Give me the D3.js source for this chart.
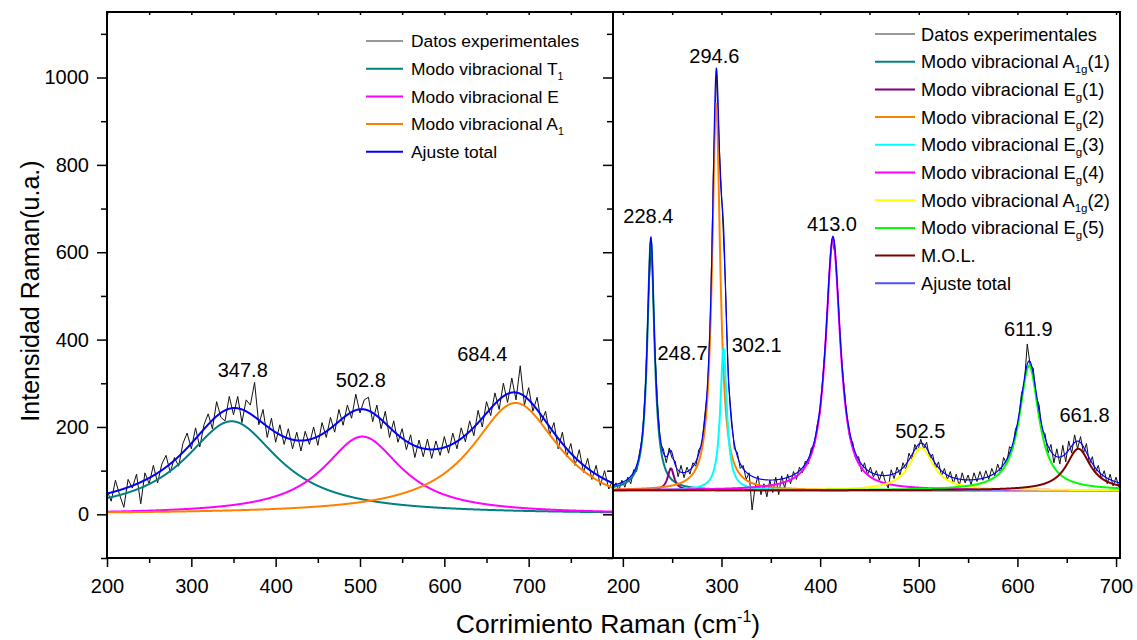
<!DOCTYPE html>
<html lang="es">
<head>
<meta charset="UTF-8">
<title>Espectro Raman</title>
<script src="https://cdn.jsdelivr.net/npm/d3@7"></script>
<style>
    body { margin: 0; background: #fff; }
    svg text { font-family: "Liberation Sans", Arial, sans-serif; fill: #000; }
    .axis path { display: none; }
    .axis line { stroke: #000; stroke-width: 1.5; }
</style>
</head>
<body>
<svg id="chart" width="1137" height="640"></svg>
<script>
// ---------- data ----------
// left panel: experimental spectrum, x = 200 + 5*i
const leftStart = 200, leftStep = 5;
const leftExp = [
    55, 30, 78, 44, 16, 80, 60, 92, 24, 95,
    70, 112, 72, 115, 135, 96, 130, 110, 162, 186,
    150, 198, 154, 205, 230, 196, 258, 222, 214, 270,
    228, 270, 210, 262, 250, 302, 205, 240, 176, 220,
    165, 205, 160, 196, 150, 188, 145, 190, 160, 200,
    158, 210, 176, 222, 188, 240, 204, 250, 220, 275,
    232, 262, 268, 212, 250, 196, 236, 176, 214, 165,
    196, 148, 182, 130, 170, 132, 172, 128, 168, 135,
    178, 140, 186, 150, 198, 166, 214, 180, 238, 200,
    258, 226, 278, 240, 300, 256, 312, 262, 340, 250,
    290, 236, 268, 210, 236, 182, 210, 150, 188, 132,
    162, 112, 148, 96, 128, 80, 112, 66, 100, 58,
    80
];
// left panel: fitted Lorentzian modes (center, height, half width)
const leftCenters = [347.8, 502.8, 684.4];
const leftHeights = [213, 178, 255];
const leftWidths = [67.9, 56.6, 64.3];
const leftPeakLabels = ["347.8", "502.8", "684.4"];
const leftLabelX = [361, 501, 645];
const leftLabelY = [330, 307, 368];

// right panel: experimental spectrum, x = 190 + 3*i
const rightStart = 190, rightStep = 3;
const rightExp = [
    58, 72, 55, 78, 62, 85, 70, 102, 98, 142,
    178, 300, 495, 625, 398, 262, 160, 150, 118, 152,
    128, 122, 86, 112, 84, 108, 92, 118, 110, 148,
    158, 225, 290, 470, 805, 1010, 830, 688, 525, 305,
    225, 150, 142, 105, 112, 80, 95, 10, 62, 88,
    45, 70, 40, 78, 50, 85, 45, 88, 60, 92,
    70, 98, 80, 108, 95, 122, 115, 152, 155, 205,
    232, 322, 405, 545, 630, 598, 505, 370, 298, 222,
    175, 165, 128, 132, 98, 118, 90, 108, 85, 100,
    78, 98, 75, 60, 102, 82, 108, 90, 118, 102,
    140, 125, 160, 145, 172, 150, 165, 128, 138, 105,
    120, 88, 105, 80, 98, 70, 92, 65, 95, 72,
    90, 68, 95, 75, 98, 78, 100, 80, 105, 88,
    115, 95, 130, 115, 155, 148, 195, 210, 275, 300,
    390, 340, 335, 270, 250, 190, 185, 140, 160, 118,
    150, 115, 158, 120, 168, 140, 182, 150, 178, 140,
    162, 115, 132, 95, 112, 82, 100, 70, 92, 65,
    85, 62
];
const rightBaseline = 55;
const rightCenters = [228.4, 248.7, 294.6, 302.1, 413.0, 502.5, 611.9, 661.8];
const rightHeights = [570, 50, 885, 325, 575, 97, 285, 95];
const rightWidths = [4.5, 4, 5, 4, 9, 15, 12, 15];
const rightPeakLabels = ["228.4", "248.7", "294.6", "302.1", "413.0", "502.5", "611.9", "661.8"];
const rightLabelX = [225.8, 260.5, 292.7, 335.7, 412, 501.5, 611, 668];
const rightLabelY = [684, 369, 1050, 388, 665, 190, 425, 228];

// legends: [text, subscript, after]
const leftLegend = [
    ["Datos experimentales", "", ""],
    ["Modo vibracional T", "1", ""],
    ["Modo vibracional E", "", ""],
    ["Modo vibracional A", "1", ""],
    ["Ajuste total", "", ""]
];
const rightLegend = [
    ["Datos experimentales", "", ""],
    ["Modo vibracional A", "1g", "(1)"],
    ["Modo vibracional E", "g", "(1)"],
    ["Modo vibracional E", "g", "(2)"],
    ["Modo vibracional E", "g", "(3)"],
    ["Modo vibracional E", "g", "(4)"],
    ["Modo vibracional A", "1g", "(2)"],
    ["Modo vibracional E", "g", "(5)"],
    ["M.O.L.", "", ""],
    ["Ajuste total", "", ""]
];

const xMajor = [200, 300, 400, 500, 600, 700];
const xMinorL = [250, 350, 450, 550, 650, 750];
const xMinorR = [250, 350, 450, 550, 650];
const yMajor = [0, 200, 400, 600, 800, 1000];
const yMinor = [-100, 100, 300, 500, 700, 900, 1100];

// styles
const leftColors = ["#008080", "#ff00ff", "#ff8000"];
const rightColors = ["#008080", "#800080", "#ff8000", "#00ffff", "#ff00ff", "#ffff00", "#00ff00", "#800000"];

// ---------- layout ----------
const svg = d3.select("#chart");
const plotTop = 12, plotBottom = 558, plotLeft = 107, plotMid = 613, plotRight = 1120;

const y = d3.scaleLinear().domain([-100, 1150]).range([plotBottom, plotTop]);
const xL = d3.scaleLinear().domain([200, 800]).range([plotLeft, plotMid]);
const xR = d3.scaleLinear().domain([190, 704]).range([plotMid, plotRight]);

const defs = svg.append("defs");
defs.append("clipPath").attr("id", "clipL").append("rect")
    .attr("x", plotLeft).attr("y", plotTop).attr("width", plotMid - plotLeft).attr("height", plotBottom - plotTop);
defs.append("clipPath").attr("id", "clipR").append("rect")
    .attr("x", plotMid).attr("y", plotTop).attr("width", plotRight - plotMid).attr("height", plotBottom - plotTop);

const lorentz = (x, c, h, w) => h * w * w / ((x - c) * (x - c) + w * w);

function drawPanel(x, clip, exp, start, step, centers, heights, widths, colors, base, totalWidth) {
    const g = svg.append("g").attr("clip-path", "url(#" + clip + ")");
    const line = d3.line().x(d => x(d[0])).y(d => y(d[1]));
    const expPts = exp.map((v, i) => [start + i * step, v]);
    g.append("path").datum(expPts)
        .attr("fill", "none").attr("stroke", "#111").attr("stroke-width", 1)
        .attr("d", line);

    const grid = d3.range(x.domain()[0], x.domain()[1] + 0.25, 0.25);
    centers.forEach((c, k) => {
        const pts = grid.map(v => [v, base + lorentz(v, c, heights[k], widths[k])]);
        g.append("path").datum(pts)
            .attr("fill", "none").attr("stroke", colors[k]).attr("stroke-width", 2)
            .attr("d", line);
    });
    const total = grid.map(v => [v, base + d3.sum(centers, (c, k) => lorentz(v, c, heights[k], widths[k]))]);
    g.append("path").datum(total)
        .attr("fill", "none").attr("stroke", "#0000ff").attr("stroke-width", totalWidth)
        .attr("d", line);
}

drawPanel(xL, "clipL", leftExp, leftStart, leftStep, leftCenters, leftHeights, leftWidths, leftColors, 0, 2);
drawPanel(xR, "clipR", rightExp, rightStart, rightStep, rightCenters, rightHeights, rightWidths, rightColors, rightBaseline, 1.2);

// peak labels
function drawLabels(x, labels, lx, ly) {
    svg.append("g").selectAll("text").data(labels).join("text")
        .attr("x", (d, i) => x(lx[i]))
        .attr("y", (d, i) => y(ly[i]))
        .attr("dy", "0.35em")
        .attr("text-anchor", "middle")
        .attr("font-size", 20)
        .text(d => d);
}
drawLabels(xL, leftPeakLabels, leftLabelX, leftLabelY);
drawLabels(xR, rightPeakLabels, rightLabelX, rightLabelY);

// ---------- axes ----------
function styleText(sel) {
    sel.selectAll("text").attr("font-size", 20).attr("fill", "#000");
}
// bottom
[[xL, xMinorL], [xR, xMinorR]].forEach(([x, minor]) => {
    svg.append("g").attr("class", "axis").attr("transform", `translate(0,${plotBottom})`)
        .call(d3.axisBottom(x).tickValues(xMajor).tickSize(9).tickPadding(12).tickFormat(d3.format("d")))
        .call(styleText);
    svg.append("g").attr("class", "axis").attr("transform", `translate(0,${plotBottom})`)
        .call(d3.axisBottom(x).tickValues(minor).tickSize(5).tickFormat(""));
    // small inner ticks on top edge
    svg.append("g").attr("class", "axis").attr("transform", `translate(0,${plotTop})`)
        .call(d3.axisTop(x).tickValues(xMajor.concat(minor)).tickSizeInner(-3).tickSizeOuter(0).tickFormat(""));
});
// left
svg.append("g").attr("class", "axis").attr("transform", `translate(${plotLeft},0)`)
    .call(d3.axisLeft(y).tickValues(yMajor).tickSize(10).tickPadding(8).tickFormat(d3.format("d")))
    .call(styleText);
svg.append("g").attr("class", "axis").attr("transform", `translate(${plotLeft},0)`)
    .call(d3.axisLeft(y).tickValues(yMinor).tickSize(6).tickFormat(""));
// inner ticks on the divider (left panel's right edge)
svg.append("g").attr("class", "axis").attr("transform", `translate(${plotMid},0)`)
    .call(d3.axisRight(y).tickValues(yMajor).tickSizeInner(-10).tickSizeOuter(0).tickFormat(""));
svg.append("g").attr("class", "axis").attr("transform", `translate(${plotMid},0)`)
    .call(d3.axisRight(y).tickValues(yMinor).tickSizeInner(-6).tickSizeOuter(0).tickFormat(""));

// frame
svg.append("rect").attr("x", plotLeft).attr("y", plotTop)
    .attr("width", plotRight - plotLeft).attr("height", plotBottom - plotTop)
    .attr("fill", "none").attr("stroke", "#000").attr("stroke-width", 2);
svg.append("line").attr("x1", plotMid).attr("x2", plotMid).attr("y1", plotTop).attr("y2", plotBottom)
    .attr("stroke", "#000").attr("stroke-width", 2);

// axis titles
svg.append("text").attr("transform", "translate(39,291) rotate(-90)")
    .attr("text-anchor", "middle").attr("font-size", 25)
    .text("Intensidad Raman(u.a.)");
const xt = svg.append("text").attr("x", 608).attr("y", 633)
    .attr("text-anchor", "middle").attr("font-size", 26.5);
xt.append("tspan").text("Corrimiento Raman (cm");
xt.append("tspan").attr("font-size", 16).attr("dy", -11).text("-1");
xt.append("tspan").attr("dy", 11).text(")");

// ---------- legends ----------
function drawLegend(items, colors, x0, x1, tx, y0, dyRow, fs, subFs) {
    const g = svg.append("g");
    items.forEach((it, i) => {
        const yy = y0 + i * dyRow;
        g.append("line").attr("x1", x0).attr("x2", x1).attr("y1", yy).attr("y2", yy)
            .attr("stroke", colors[i]).attr("stroke-width", i === 0 ? 1 : 2);
        const t = g.append("text").attr("x", tx).attr("y", yy).attr("dy", "0.36em").attr("font-size", fs);
        t.append("tspan").text(it[0]);
        if (it[1]) t.append("tspan").attr("font-size", subFs).attr("dy", 5).text(it[1]);
        if (it[2]) t.append("tspan").attr("dy", -5).text(it[2]);
    });
}
drawLegend(leftLegend, ["#333"].concat(leftColors, ["#0000ff"]), 366, 403, 411, 41, 27.7, 17.4, 10.5);
drawLegend(rightLegend, ["#333"].concat(rightColors, ["#5050ff"]), 875, 915, 921, 34, 27.7, 18.2, 11.5);
</script>
</body>
</html>
